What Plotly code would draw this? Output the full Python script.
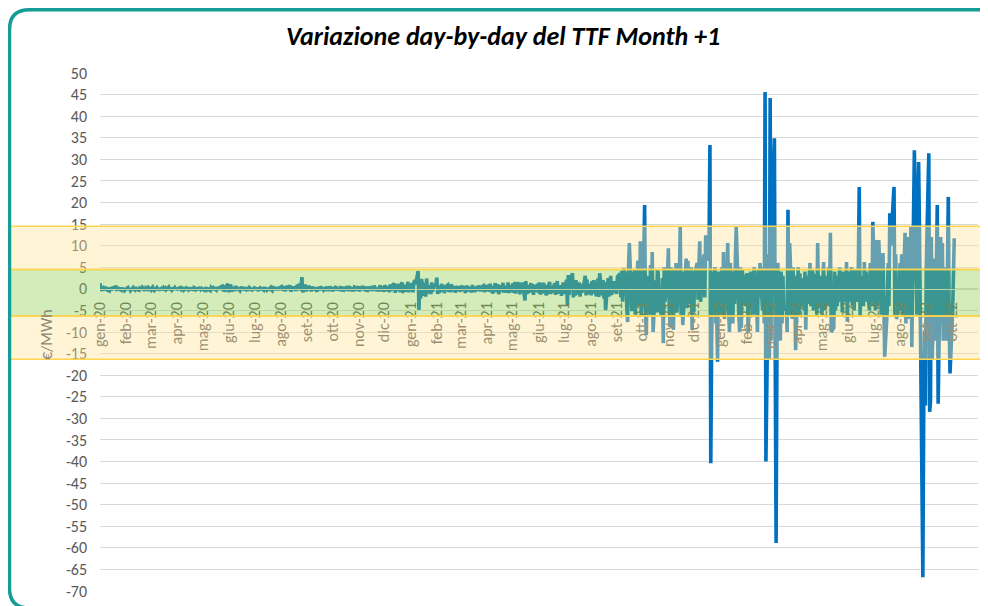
import pandas as pd
import plotly.graph_objects as go

# ---------------- DATA (daily change of TTF Month+1, EUR/MWh, business days) ----------------
chg_2020 = [
    # gen
    1.3, -0.4, 0.2, -0.3, 0.1, 0.4, -0.2, -0.5, 0.3, 0.0, -0.3, 0.2, 0.4, -0.1, -0.4, 0.2, 0.1, -0.3, 0.3, -0.2, 0.1, -0.4,
    # feb
    0.2, 0.3, -0.2, 0.1, -0.4, 0.3, 0.0, -0.2, 0.4, -0.1, -0.3, 0.2, 0.1, -0.2, 0.3, -0.4, 0.2, 0.0, -0.1, 0.3,
    # mar
    -0.3, 0.2, 0.4, -0.2, -0.4, 0.3, 0.1, -0.3, 0.2, -0.1, 0.3, -0.4, 0.0, 0.2, -0.2, 0.4, -0.3, 0.1, 0.2, -0.3, 0.3, -0.1,
    # apr
    0.2, -0.3, 0.1, 0.3, -0.2, -0.1, 0.4, -0.3, 0.2, 0.0, -0.2, 0.3, -0.1, 0.1, -0.4, 0.3, 0.2, -0.2, 0.1, -0.3, 0.4, -0.1,
    # mag
    0.1, -0.3, 0.2, 0.3, -0.2, 0.0, -0.4, 0.3, 0.1, -0.2, 0.2, -0.3, 0.4, -0.1, -0.2, 0.3, 0.6, -0.5, 0.8, -0.7, 0.5,
    # giu
    1.1, -0.8, 0.6, 1.0, -0.6, 0.4, -0.5, 0.7, -0.3, 0.3, -0.4, 0.2, 0.5, -0.3, 0.1, -0.2, 0.4, -0.4, 0.2, 0.3, -0.2, 0.1,
    # lug
    -0.3, 0.2, 0.1, -0.2, 0.3, -0.4, 0.2, 0.0, -0.3, 0.4, -0.1, 0.2, -0.3, 0.1, 0.3, -0.2, -0.4, 0.3, 0.1, -0.2, 0.4, -0.3, 0.2,
    # ago
    0.5, -0.4, 0.6, 0.2, -0.5, 0.7, -0.3, 0.4, 0.8, -0.6, 0.5, -0.2, 0.3, -0.5, 0.6, 0.9, -0.4, 0.3, 2.7, -0.8, 1.0,
    # set
    -0.6, 0.4, -0.3, 0.7, -0.5, 0.3, 0.5, -0.4, 0.2, -0.6, 0.4, 0.1, -0.3, 0.5, -0.2, 0.3, -0.5, 0.4, 0.2, -0.4, 0.6, -0.3,
    # ott
    0.4, -0.5, 0.3, 0.6, -0.4, 0.2, -0.3, 0.5, -0.6, 0.4, 0.1, -0.2, 0.5, -0.5, 0.3, 0.6, -0.4, 0.2, -0.6, 0.4, 0.3, -0.3,
    # nov
    0.5, -0.6, 0.3, -0.2, 0.6, -0.4, 0.2, 0.5, -0.7, 0.4, -0.3, 0.6, -0.5, 0.2, 0.7, -0.4, 0.3, -0.6, 0.5, 0.8, -0.5,
    # dic
    0.6, -0.7, 0.9, -0.4, 0.5, -0.8, 1.0, -0.5, 0.7, 1.2, -0.9, 0.6, -0.4, 1.1, -0.7, 0.8, 1.5, -1.0, 0.9, -0.6, 1.3, 1.6, -0.8,
]

chg_2021 = [
    # gen
    0.3, 1.2, -0.8, 1.5, 2.0, 1.0, 4.1, -4.9, 1.8, -2.2, 2.3, -1.6, 1.4, -1.8, 2.4, -1.0, 0.8, -1.2, 1.5, -0.7, 0.6,
    # feb
    1.0, 2.6, -1.2, 0.8, -0.9, 1.1, -0.6, 0.7, -1.0, 0.5, 0.9, -0.7, 0.4, -0.8, 1.0, -0.5, 0.6, -0.9, 0.7, -0.4,
    # mar
    0.5, -0.7, 0.8, -0.4, 0.6, -0.9, 0.3, 0.7, -0.6, 0.4, -0.8, 0.9, -0.3, 0.5, -0.7, 0.6, -0.4, 0.8, -0.6, 0.3, 0.7, -0.8, 0.5,
    # apr
    -0.6, 0.9, -0.5, 1.2, -0.8, 0.6, -1.1, 1.3, -0.7, 0.5, 1.0, -1.2, 0.8, -0.6, 1.4, -0.9, 0.7, -0.8, 1.5, -1.0, 0.9, -0.7,
    # mag
    1.2, -0.9, 1.6, -1.1, 0.8, 1.4, -1.3, 1.0, -0.7, 1.5, -2.7, 1.8, -1.2, 0.9, -1.0, 1.3, -0.8, 1.1, -1.4, 0.9, -0.6,
    # giu
    1.2, -1.0, 1.5, -1.3, 0.8, 1.4, -1.1, 0.9, -1.5, 1.2, 1.6, -1.2, 0.7, -0.9, 1.3, -1.4, 1.0, 1.8, -1.1, 0.8, -1.6, 1.3,
    # lug
    1.5, -1.2, 2.1, -3.8, 3.2, -1.4, 1.6, 3.6, -2.0, 1.2, -1.6, 2.0, -1.3, 1.5, -1.8, 1.1, -0.9, 1.7, 3.0, -1.5, 2.2, -1.2,
    # ago
    1.2, -1.5, 1.8, -1.1, 2.0, -1.7, 1.4, 2.4, -1.9, 3.6, -1.5, 2.0, -2.2, 1.6, -4.9, 2.5, -1.8, 2.1, 3.0, -1.4, 1.8, -1.0,
    # set
    1.5, -1.2, 2.8, 3.5, -2.0, 4.2, -3.0, 4.8, 2.5, -4.5, -7.7, 5.0, 10.6, -5.2, 3.8, -3.0, 4.5, -6.0, 6.5, 6.0, -4.0, 11.0,
    # ott
    -6.5, 7.5, 19.4, -5.0, -10.7, 3.0, -6.0, 5.5, -3.5, 8.5, -10.0, 2.0, -5.5, 4.0, 3.9, -4.5, -6.0, 2.5, -12.6, 5.0, -3.0,
    # nov
    3.0, 9.4, -4.0, -8.8, 5.0, -9.5, 4.5, -3.0, 6.0, -5.5, 3.5, 14.3, -6.0, 4.0, -8.4, 2.5, 7.0, -4.5, 6.5, -3.5, 5.0, -9.6,
    # dic
    4.0, -5.5, 3.5, 6.0, -2.5, 5.5, 11.0, -3.0, 4.5, 8.0, -2.0, 12.4, 6.5, 12.0, 33.3, -40.4, -12.7, 2.0, 5.0, -8.0, -6.0, -16.9, 4.0,
]

chg_2022 = [
    # gen
    -6.0, 5.0, -4.0, 8.5, -7.0, 3.0, 10.6, -5.0, -10.0, 6.0, -8.0, 4.0, -3.5, 7.0, 14.3, -6.0, -10.0, 5.0, -9.0, 4.5, -3.0,
    # feb
    -4.0, 3.0, 3.6, -10.3, 4.0, -5.0, 2.5, -6.0, 5.0, -3.0, -10.0, 4.5, -2.0, 6.0, -5.0, 5.0, -8.0, 45.6, -40.0, 8.0,
    # mar
    -16.5, 44.2, -12.0, 15.0, 34.9, -16.5, -58.9, -14.0, 6.0, -12.0, 4.0, -8.0, 3.0, -5.0, -4.0, -10.0, 18.3, -6.0, 10.6, -7.0, 5.0, -4.0, 3.0,
    # apr
    -14.2, 5.0, -6.0, 3.6, -4.0, 2.5, -5.0, 4.0, -9.5, 3.0, -3.5, 6.0, -4.0, 2.0, 4.3, -5.0, 3.5, -6.0, 10.6, -4.5, 3.0,
    # mag
    -6.0, 4.0, 6.2, -5.0, 3.0, -4.0, 5.0, -3.0, 13.0, -10.0, -9.0, 4.0, -5.0, 3.0, -4.0, 5.0, -3.0, 2.5, -5.5, 4.0, -3.0, 6.2,
    # giu
    -7.6, 4.0, -3.0, 5.0, -4.0, 3.0, -5.0, 4.5, -3.0, 6.0, 23.6, -6.5, 3.0, -4.0, 6.2, -3.0, 4.0, 2.0, -5.0, 6.0, 3.5, -4.0,
    # lug
    15.5, -5.0, 11.3, -4.0, 9.0, 11.3, -6.0, 5.0, 8.3, -3.0, -15.7, -5.0, 6.0, -4.0, 17.5, 10.0, 19.0, 23.6, -6.0, 8.0, -7.0,
    # ago
    -4.0, 6.0, -5.0, 8.0, -6.0, 13.0, -8.0, 5.0, 12.0, -7.0, 14.3, -13.5, 9.0, 12.0, 32.1, -6.0, 18.0, 29.4, 14.0, -12.0, -66.8, -28.0, -10.0,
    # set
    -27.0, 5.0, 31.4, -28.5, -26.2, 12.0, -16.5, 7.0, -12.0, 6.0, 19.4, -26.6, 12.0, -8.0, 10.6, -12.0, 5.0, -12.0, 9.0, 21.3, -8.0, -19.6,
    # ott
    -6.0, 3.0, 11.7,
]

x_tick_labels = [
    "gen-20", "feb-20", "mar-20", "apr-20", "mag-20", "giu-20", "lug-20", "ago-20", "set-20", "ott-20", "nov-20", "dic-20",
    "gen-21", "feb-21", "mar-21", "apr-21", "mag-21", "giu-21", "lug-21", "ago-21", "set-21", "ott-21", "nov-21", "dic-21",
    "gen-22", "feb-22", "mar-22", "apr-22", "mag-22", "giu-22", "lug-22", "ago-22", "set-22", "ott-22",
]
y_tick_values = [-70, -65, -60, -55, -50, -45, -40, -35, -30, -25, -20, -15, -10, -5, 0, 5, 10, 15, 20, 25, 30, 35, 40, 45, 50]
y_tick_labels = ["-70", "-65", "-60", "-55", "-50", "-45", "-40", "-35", "-30", "-25", "-20", "-15", "-10", "-5",
                 "0", "5", "10", "15", "20", "25", "30", "35", "40", "45", "50"]

# ---------------- build series ----------------
dates = (list(pd.bdate_range("2020-01-02", periods=len(chg_2020)))
         + list(pd.bdate_range("2021-01-01", periods=len(chg_2021)))
         + list(pd.bdate_range("2022-01-03", periods=len(chg_2022))))
values = chg_2020 + chg_2021 + chg_2022
x_tick_dates = list(pd.date_range("2020-01-02", periods=len(x_tick_labels), freq=pd.DateOffset(months=1)))

# ---------------- geometry (screen pixels -> paper); page body adds an 8px offset ----------------
OFF = 8
W, H = 988 - OFF, 606 - OFF
SCR_L, SCR_R, SCR_T, SCR_B = 100, 978, 73, 591   # plot area on screen
L, T = SCR_L - OFF, SCR_T - OFF
R, B = W - (SCR_R - OFF), H - (SCR_B - OFF)
PW, PH = W - L - R, H - T - B
Y_MIN, Y_MAX = -70, 50


def px_x(px):
    return (px - SCR_L) / PW


def px_y(py):
    return (SCR_B - py) / PH


def val_y(v):
    return (v - Y_MIN) / (Y_MAX - Y_MIN)


FONT = "Calibri, Carlito, Lato, sans-serif"
GREY = "#595959"

fig = go.Figure()
fig.add_trace(go.Scatter(
    x=dates, y=values, mode="lines",
    line=dict(color="#0070C0", width=3.6),
    hoverinfo="skip", showlegend=False,
))

shapes = []
band_x0, band_x1 = px_x(9.5), px_x(990)
gold = "#FFD54F"
for (v0, v1, fill) in [(4.5, 14.5, "rgba(255,230,153,0.4)"),
                       (-16.3, -6.3, "rgba(255,230,153,0.4)"),
                       (-6.3, 4.5, "rgba(146,208,80,0.4)")]:
    shapes.append(dict(type="rect", xref="paper", yref="paper",
                       x0=band_x0, x1=band_x1, y0=val_y(v0), y1=val_y(v1),
                       fillcolor=fill, line=dict(color=gold, width=1.5), layer="above"))

# rounded teal frame (screen pixel coordinates; top kept inside the visible figure)
fx0, fy0, fx1, fy1, rr = 9.5, OFF + 1.8, 1004, 608, 20
pts = [
    ("M", fx0 + rr, fy0), ("L", fx1 - rr, fy0), ("Q", fx1, fy0, fx1, fy0 + rr),
    ("L", fx1, fy1 - rr), ("Q", fx1, fy1, fx1 - rr, fy1),
    ("L", fx0 + rr, fy1), ("Q", fx0, fy1, fx0, fy1 - rr),
    ("L", fx0, fy0 + rr), ("Q", fx0, fy0, fx0 + rr, fy0),
]
path = ""
for p in pts:
    coords = p[1:]
    s = [f"{px_x(coords[i]):.5f},{px_y(coords[i + 1]):.5f}" for i in range(0, len(coords), 2)]
    path += p[0] + " " + " ".join(s) + " "
path += "Z"
shapes.append(dict(type="path", xref="paper", yref="paper", path=path,
                   line=dict(color="#149C95", width=3.5), fillcolor="rgba(0,0,0,0)", layer="above"))

fig.update_layout(
    width=W, height=H,
    margin=dict(l=L, r=R, t=T, b=B, autoexpand=False),
    paper_bgcolor="white", plot_bgcolor="white",
    showlegend=False,
    font=dict(family=FONT, color=GREY, size=16),
    xaxis=dict(
        type="date", range=["2020-01-02", "2022-11-02"],
        anchor="free", position=val_y(0), automargin=False,
        tickmode="array", tickvals=x_tick_dates, ticktext=x_tick_labels,
        tickangle=-90, showgrid=False, zeroline=False,
        showline=True, linecolor="#D9D9D9", linewidth=1,
        ticks="", ticklabelstandoff=6,
        tickfont=dict(family=FONT, color=GREY, size=16),
    ),
    yaxis=dict(
        range=[Y_MIN, Y_MAX], tickmode="array", automargin=False,
        tickvals=y_tick_values, ticktext=y_tick_labels,
        showgrid=True, gridcolor="#D9D9D9", gridwidth=1,
        zeroline=False, showline=False, ticks="", ticklabelstandoff=12,
        tickfont=dict(family=FONT, color=GREY, size=16),
    ),
    shapes=shapes,
)

fig.add_annotation(
    text="<b><i>Variazione day-by-day del TTF Month +1</i></b>",
    xref="paper", yref="paper", x=px_x(503), y=px_y(36),
    xanchor="center", yanchor="middle", showarrow=False,
    font=dict(family=FONT, size=26, color="black"),
)
fig.add_annotation(
    text="€/MWh", textangle=-90,
    xref="paper", yref="paper", x=px_x(46), y=px_y(335),
    xanchor="center", yanchor="middle", showarrow=False,
    font=dict(family=FONT, size=16, color="#8C8874"),
)

fig.write_html("out.html")
